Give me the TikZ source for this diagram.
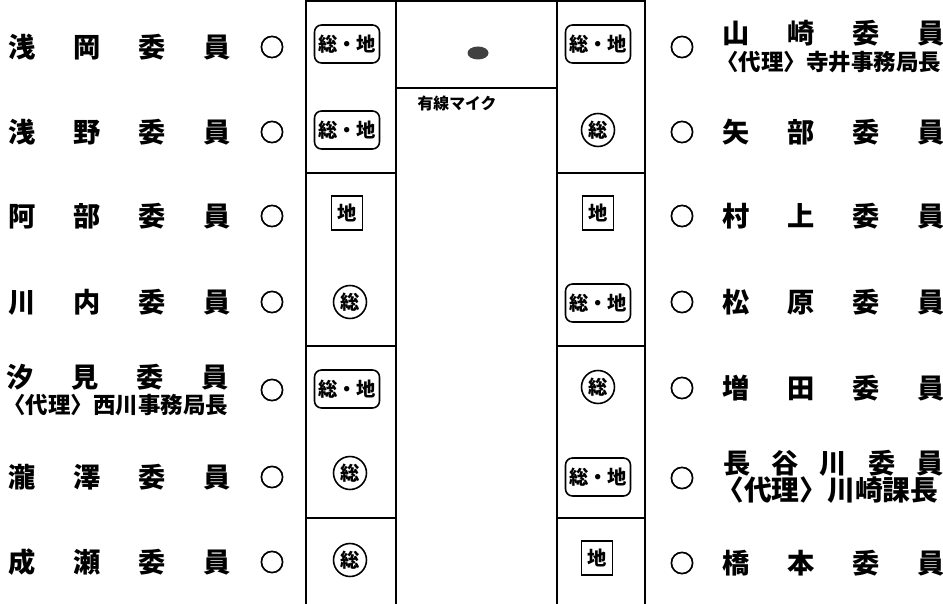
\documentclass[tikz,border=0pt]{standalone}
\usepackage{fontspec}
\newfontfamily\jp{Noto Sans CJK JP}
\newfontfamily\jpo{Noto Sans CJK JP}[FakeBold=3]
\usetikzlibrary{shapes.geometric}
\usetikzlibrary{positioning}
\newcommand{\ka}[2][1.3cm]{\makebox[#1]{#2}}

\begin{document}
\begin{tikzpicture}[x=0.02cm, y=-0.02cm,
    member/.style={font=\jp\bfseries\fontsize{15.5}{16}\selectfont, inner sep=0pt},
    proxy/.style={font=\jp\bfseries\fontsize{12.8}{13}\selectfont, inner sep=0pt, anchor=west},
    attend/.style={font=\jpo\fontsize{14}{14}\selectfont, inner sep=0pt},
    sochi/.style={draw, rounded corners=4pt, minimum width=1.3cm, minimum height=0.76cm, line width=0.9pt, inner sep=0pt, font=\jp\bfseries\fontsize{11}{12}\selectfont},
    chi/.style={draw, minimum width=0.62cm, minimum height=0.68cm, line width=0.9pt, inner sep=0pt, font=\jp\bfseries\fontsize{11}{12}\selectfont},
    so/.style={draw, circle, minimum size=0.66cm, line width=0.9pt, inner sep=0pt, font=\jp\bfseries\fontsize{11}{12}\selectfont},
    mic/.style={ellipse, fill=black!75, minimum width=0.42cm, minimum height=0.26cm, inner sep=0pt},
    frame/.style={line width=1pt}]
            \useasboundingbox (0,0) rectangle (943,604);

            % seating table
            \draw[frame] (306,604) -- (306,1) -- (645,1) -- (645,604);
            \draw[frame] (396,1) -- (396,604);
            \draw[frame] (557,1) -- (557,604);
            \draw[frame] (396,88) -- (557,88);
            \foreach \y in {173,346,518} {
                \draw[frame] (306,\y) -- (396,\y);
                \draw[frame] (557,\y) -- (645,\y);
            }

            % microphone
            \node[mic] (mic) at (478,53) {};
            \node[font=\jp\bfseries\fontsize{9}{9}\selectfont, inner sep=0pt] (miclabel) at (457,103) {有線マイク};

            % left side members
            \node[member] (asaoka) at (119.5,47) {\ka{浅}\ka{岡}\ka{委}\ka{員}};
            \node[member] (asano) at (119.5,132) {\ka{浅}\ka{野}\ka{委}\ka{員}};
            \node[member] (abe) at (119.5,216) {\ka{阿}\ka{部}\ka{委}\ka{員}};
            \node[member] (kawauchi) at (119.5,302) {\ka{川}\ka{内}\ka{委}\ka{員}};
            \node[member] (shiomi) at (117.5,377) {\ka{汐}\ka{見}\ka{委}\ka{員}};
            \node[proxy] (shiomip) at (3,405) {〈代理〉西川事務局長};
            \node[member] (takizawa) at (119.5,477) {\ka{瀧}\ka{澤}\ka{委}\ka{員}};
            \node[member] (naruse) at (119.5,562) {\ka{成}\ka{瀬}\ka{委}\ka{員}};

            \node[attend] (la1) at (272,47) {○};
            \node[attend] (la2) at (272,132) {○};
            \node[attend] (la3) at (272,216) {○};
            \node[attend] (la4) at (272,302) {○};
            \node[attend] (la5) at (272,390) {○};
            \node[attend] (la6) at (272,477) {○};
            \node[attend] (la7) at (272,562) {○};

            % left column seats
            \node[sochi] (ls1) at (347,44) {総・地};
            \node[sochi] (ls2) at (347,130) {総・地};
            \node[chi] (ls3) at (347,213) {地};
            \node[so] (ls4) at (350,302) {総};
            \node[sochi] (ls5) at (347,389) {総・地};
            \node[so] (ls6) at (350,473) {総};
            \node[so] (ls7) at (350,560) {総};

            % right column seats
            \node[sochi] (rs1) at (598,44) {総・地};
            \node[so] (rs2) at (598,130) {総};
            \node[chi] (rs3) at (598,213) {地};
            \node[sochi] (rs4) at (598,303) {総・地};
            \node[so] (rs5) at (598,387) {総};
            \node[sochi] (rs6) at (598,477) {総・地};
            \node[chi] (rs7) at (597,558) {地};

            % right side members
            \node[attend] (ra1) at (682,47) {○};
            \node[attend] (ra2) at (682,132) {○};
            \node[attend] (ra3) at (682,216) {○};
            \node[attend] (ra4) at (682,302) {○};
            \node[attend] (ra5) at (682,388) {○};
            \node[attend] (ra6) at (682,478) {○};
            \node[attend] (ra7) at (682,563) {○};

            \node[member] (yamazaki) at (833.5,33) {\ka{山}\ka{崎}\ka{委}\ka{員}};
            \node[proxy] (yamazakip) at (716,62) {〈代理〉寺井事務局長};
            \node[member] (yabe) at (833.5,132) {\ka{矢}\ka{部}\ka{委}\ka{員}};
            \node[member] (murakami) at (833.5,216) {\ka{村}\ka{上}\ka{委}\ka{員}};
            \node[member] (matsubara) at (833.5,302) {\ka{松}\ka{原}\ka{委}\ka{員}};
            \node[member] (masuda) at (833.5,388) {\ka{増}\ka{田}\ka{委}\ka{員}};
            \node[member] (hasegawa) at (833.5,463) {\ka[0.965cm]{長}\ka[0.965cm]{谷}\ka[0.965cm]{川}\ka[0.965cm]{委}\ka[0.965cm]{員}};
            \node[proxy, font=\jp\bfseries\fontsize{15.8}{16}\selectfont] (hasegawap) at (716,490) {〈代理〉川崎課長};
            \node[member] (hashimoto) at (833.5,563) {\ka{橋}\ka{本}\ka{委}\ka{員}};
        \end{tikzpicture}
\end{document}
